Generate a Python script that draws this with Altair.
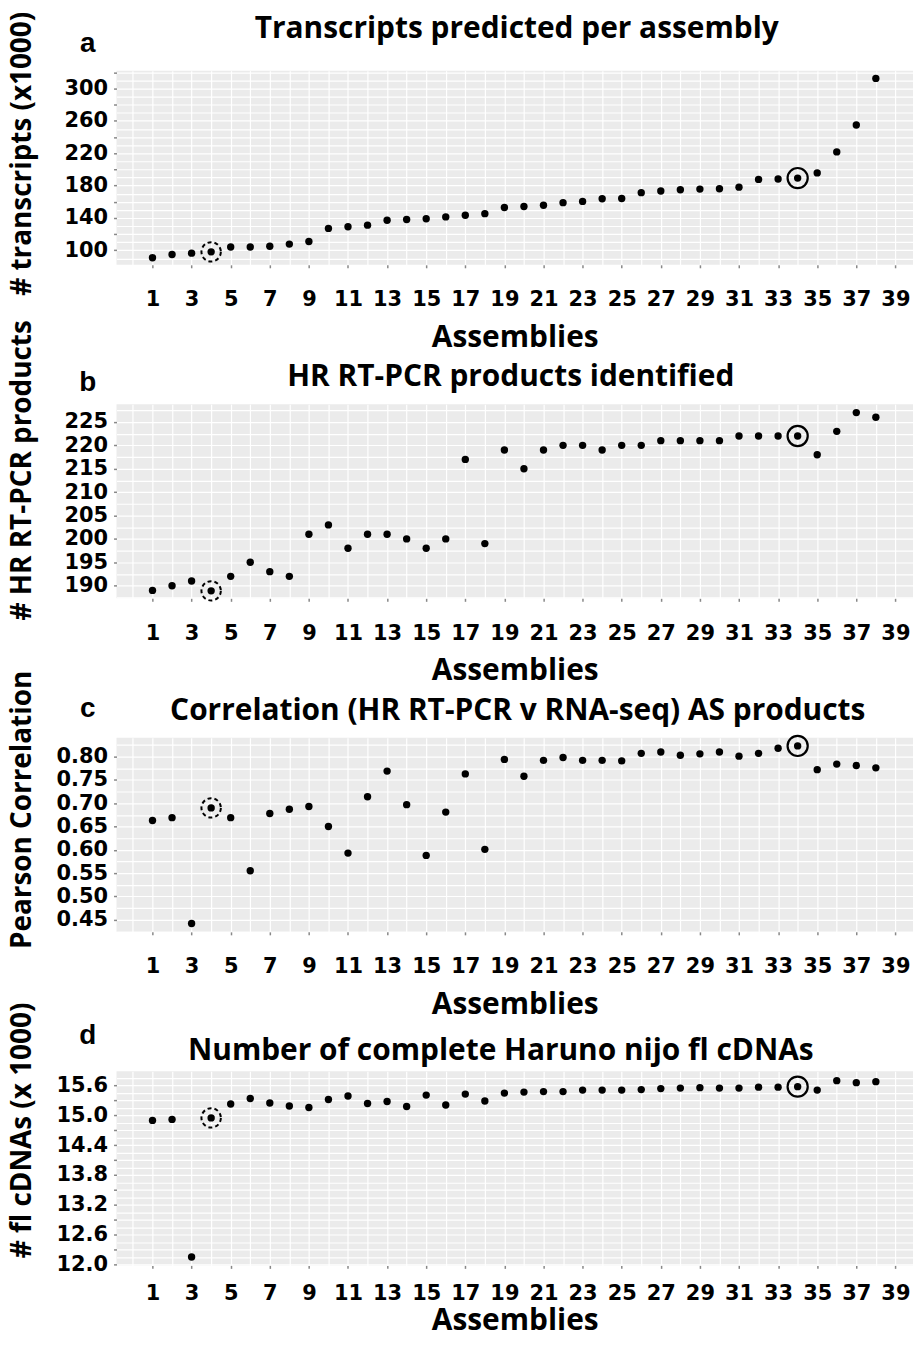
import altair as alt
import pandas as pd

# ---------------- data ----------------
ASSEMBLIES = [1, 2, 3, 4, 5, 6, 7, 8, 9, 10, 11, 12, 13, 14, 15, 16, 17, 18, 19,
              20, 21, 22, 23, 24, 25, 26, 27, 28, 29, 30, 31, 32, 33, 34, 35, 36, 37, 38]

TRANSCRIPTS = [90.8, 94.8, 96.4, 98.0, 104.0, 104.0, 105.0, 107.6, 110.8, 127.0,
               129.0, 131.0, 137.0, 138.0, 139.0, 141.2, 143.2, 145.2, 152.8, 154.0,
               155.6, 158.8, 160.4, 163.6, 164.0, 171.2, 173.2, 174.8, 175.6, 176.0,
               178.0, 187.6, 188.0, 189.2, 195.6, 221.6, 254.8, 312.4]

HR_PRODUCTS = [189, 190, 191, 188.9, 192, 195, 193, 192, 201, 203,
               198, 201, 201, 200, 198, 200, 217, 199, 219, 215,
               219, 220, 220, 219, 220, 220, 221, 221, 221, 221,
               222, 222, 222, 222, 218, 223, 227, 226]

CORRELATION = [0.663, 0.669, 0.442, 0.690, 0.669, 0.555, 0.678, 0.687, 0.693, 0.650,
               0.593, 0.714, 0.769, 0.697, 0.588, 0.681, 0.763, 0.601, 0.794, 0.758,
               0.792, 0.798, 0.792, 0.792, 0.791, 0.807, 0.810, 0.803, 0.806, 0.810,
               0.801, 0.807, 0.818, 0.823, 0.772, 0.784, 0.781, 0.776]

FL_CDNAS = [14.90, 14.92, 12.15, 14.95, 15.23, 15.34, 15.25, 15.19, 15.16, 15.32,
            15.39, 15.24, 15.28, 15.18, 15.41, 15.21, 15.43, 15.29, 15.45, 15.47,
            15.48, 15.48, 15.51, 15.51, 15.51, 15.52, 15.54, 15.55, 15.56, 15.55,
            15.55, 15.57, 15.57, 15.58, 15.51, 15.70, 15.66, 15.68]

DASHED_ASSEMBLY = 4
SOLID_ASSEMBLY = 34

X_AXIS_VALUES = [0, 1, 2, 3, 4, 5, 6, 7, 8, 9, 10, 11, 12, 13, 14, 15, 16, 17, 18, 19,
                 20, 21, 22, 23, 24, 25, 26, 27, 28, 29, 30, 31, 32, 33, 34, 35, 36, 37, 38, 39]

Y_A_VALUES = [90, 100, 110, 120, 130, 140, 150, 160, 170, 180, 190, 200, 210, 220,
              230, 240, 250, 260, 270, 280, 290, 300, 310, 320]
Y_B_VALUES = [187.5, 190, 192.5, 195, 197.5, 200, 202.5, 205, 207.5, 210, 212.5,
              215, 217.5, 220, 222.5, 225, 227.5]
Y_C_VALUES = [0.425, 0.45, 0.475, 0.5, 0.525, 0.55, 0.575, 0.6, 0.625, 0.65, 0.675,
              0.7, 0.725, 0.75, 0.775, 0.8, 0.825]
Y_D_VALUES = [12.0, 12.15, 12.3, 12.45, 12.6, 12.75, 12.9, 13.05, 13.2, 13.35, 13.5,
              13.65, 13.8, 13.95, 14.1, 14.25, 14.4, 14.55, 14.7, 14.85, 15.0, 15.15,
              15.3, 15.45, 15.6, 15.75]

TITLE_FONT = "Open Sans"
LABEL_FONT = "DejaVu Sans"
PANEL_W = 800
PANEL_H = 195


def panel(values, letter, title, ytitle, domain, yvals, tick_test, label_test, fmt,
          title_y, title_x, letter_y, ytitle_y, label_pad, title_pad):
    df = pd.DataFrame({"assembly": ASSEMBLIES, "value": values})

    x_enc = alt.X(
        "assembly:Q",
        scale=alt.Scale(domain=[-0.84, 39.9], nice=False, zero=False),
        axis=alt.Axis(
            values=X_AXIS_VALUES,
            tickCount=200,
            format="d",
            title="Assemblies",
            labelExpr="datum.value % 2 == 1 ? datum.label : ''",
            tickOpacity={"condition": {"test": "datum.value % 2 == 1", "value": 1}, "value": 0},
            labelOverlap=False,
            labelFlush=False,
            labelPadding=label_pad,
            titlePadding=title_pad,
            titleFont=TITLE_FONT,
            titleFontSize=30,
        ),
    )
    y_enc = alt.Y(
        "value:Q",
        scale=alt.Scale(domain=domain, nice=False, zero=False),
        axis=alt.Axis(
            values=yvals,
            tickCount=200,
            title=ytitle,
            format=fmt,
            labelExpr=f"({label_test}) ? datum.label : ''",
            tickOpacity={"condition": {"test": tick_test, "value": 1}, "value": 0},
            labelOverlap=False,
            labelFlush=False,
            labelPadding=6,
            titleFont=TITLE_FONT,
            titleFontSize=28,
            titleX=-80,
            titleY=ytitle_y,
        ),
    )

    dots = alt.Chart(df).mark_circle(size=55, color="black", opacity=1).encode(x=x_enc, y=y_enc)

    dashed = (
        alt.Chart(df)
        .transform_filter(alt.datum.assembly == DASHED_ASSEMBLY)
        .mark_point(shape="circle", size=380, filled=False, color="black",
                    strokeWidth=2, strokeDash=[4, 3], opacity=1)
        .encode(x="assembly:Q", y="value:Q")
    )
    solid = (
        alt.Chart(df)
        .transform_filter(alt.datum.assembly == SOLID_ASSEMBLY)
        .mark_point(shape="circle", size=410, filled=False, color="black",
                    strokeWidth=2.2, opacity=1)
        .encode(x="assembly:Q", y="value:Q")
    )
    letter_layer = (
        alt.Chart(pd.DataFrame({"letter": [letter]}))
        .mark_text(font="Liberation Sans", fontWeight="bold", fontSize=28,
                   align="center", baseline="alphabetic", color="black")
        .encode(text="letter:N", x=alt.value(-29), y=alt.value(letter_y))
    )
    title_layer = (
        alt.Chart(pd.DataFrame({"title": [title]}))
        .mark_text(font=TITLE_FONT, fontWeight="bold", fontSize=30,
                   align="center", baseline="alphabetic", color="black")
        .encode(text="title:N", x=alt.value(title_x), y=alt.value(title_y))
    )

    return alt.layer(dots, dashed, solid, letter_layer, title_layer).properties(
        width=PANEL_W,
        height=PANEL_H,
    )


pa = panel(TRANSCRIPTS, "a", "Transcripts predicted per assembly", "# transcripts (x1000)",
           [82, 322], Y_A_VALUES, "datum.value % 20 == 0", "datum.value % 40 == 20",
           "d", -33, 402, -19, 83, 21, 13)
pb = panel(HR_PRODUCTS, "b", "HR RT-PCR products identified", "# HR RT-PCR products",
           [187.3, 228.8], Y_B_VALUES, "datum.value % 5 == 0", "datum.value % 5 == 0",
           "d", -18, 396, -13, 66, 21, 13)
pc = panel(CORRELATION, "c", "Correlation (HR RT-PCR v RNA-seq) AS products", "Pearson Correlation",
           [0.424, 0.8406], Y_C_VALUES, "round(datum.value*1000) % 50 == 0",
           "round(datum.value*1000) % 50 == 0", ".2f", -18, 403, -21, 72, 21, 13)
pd_ = panel(FL_CDNAS, "d", "Number of complete Haruno nijo fl cDNAs", "# fl cDNAs (x 1000)",
            [11.98, 15.89], Y_D_VALUES, "round(datum.value*100) % 30 == 0",
            "round(datum.value*10) % 6 == 0", ".1f", -11, 386, -27, 59, 14, 2)

chart = (
    alt.vconcat(pa, pb, pc, pd_, spacing=140, bounds="flush")
    .properties(padding={"left": 0, "top": 0, "right": 0, "bottom": 0}, background="white")
    .configure_view(fill="#EBEBEB", stroke="transparent", strokeWidth=0)
    .configure_axis(
        domain=False,
        grid=True,
        gridColor="white",
        gridWidth=1.2,
        tickColor="#888888",
        tickSize=3,
        tickWidth=1.5,
        labelFont=LABEL_FONT,
        labelFontWeight="bold",
        labelFontSize=21,
        labelColor="black",
        titleFontWeight="bold",
        titleColor="black",
    )
)

chart.save("out.html", embed_options={"renderer": "svg", "actions": False})
